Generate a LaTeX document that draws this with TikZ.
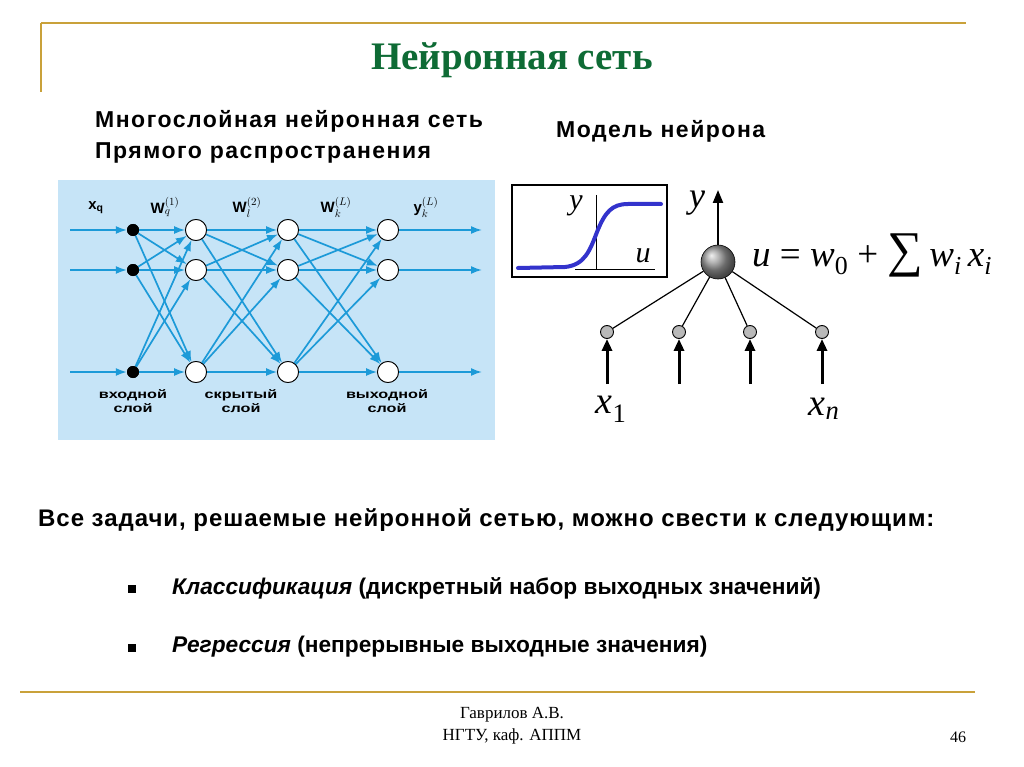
\documentclass[tikz,border=0pt]{standalone}
\usepackage{fontspec}
\setmainfont{Liberation Serif}
\setsansfont{Liberation Sans}
\usetikzlibrary{arrows.meta}
\definecolor{gold}{HTML}{C9A13A}
\definecolor{titlegreen}{HTML}{0E6B35}
\definecolor{panelblue}{HTML}{C6E4F7}
\definecolor{netblue}{HTML}{1C9AD8}
\definecolor{sigblue}{HTML}{3333CC}
\newcommand{\wideTxt}[1]{\scalebox{1.35}[1]{#1}}
\tikzset{
  netarrow/.style={draw=netblue, line width=1.7pt, -{Latex[length=11pt,width=8pt]}},
  indot/.style={circle, fill=black, inner sep=0pt, minimum size=12pt},
  hidnode/.style={circle, fill=white, draw=black, line width=0.8pt, inner sep=0pt, minimum size=21pt},
  netlbl/.style={font=\sffamily\bfseries\fontsize{15}{15}\selectfont, inner sep=0pt},
  laylbl/.style={font=\sffamily\bfseries\fontsize{12}{14}\selectfont, align=center, inner sep=0pt},
  smallnode/.style={circle, fill=gray!55, draw=black, line width=0.9pt, inner sep=0pt, minimum size=13pt},
  inarrow/.style={draw=black, line width=3pt, -{Triangle[length=12pt,width=10pt]}},
  mathlbl/.style={font=\itshape\fontsize{38}{38}\selectfont, inner sep=0pt},
  headtxt/.style={font=\sffamily\bfseries\fontsize{23}{31}\selectfont\addfontfeature{LetterSpace=6.5}, inner sep=0pt},
  bodytxt/.style={font=\sffamily\bfseries\fontsize{22.7}{26}\selectfont, inner sep=0pt, anchor=west},
  bulletbox/.style={fill=black, minimum size=8pt, inner sep=0pt},
}
\begin{document}
\begin{tikzpicture}[x=1pt,y=-1pt]
\useasboundingbox (0,0) rectangle (1024,767);
\fill[white] (0,0) rectangle (1024,767);
% frame lines
\draw[gold, line width=2.5pt] (41,23) -- (966,23);
\draw[gold, line width=2pt] (41,23) -- (41,92);
\draw[gold, line width=2.5pt] (20,692) -- (975,692);
% title
\node[font=\bfseries\fontsize{39}{39}\selectfont, text=titlegreen, inner sep=0pt] (title) at (512,60) {Нейронная сеть};
% subtitles
\node[headtxt, align=left, anchor=north west] (sub1) at (95,110) {Многослойная нейронная сеть\\Прямого распространения};
\node[headtxt, anchor=west] (sub2) at (556,131) {Модель нейрона};
% network panel
\fill[panelblue] (58,180) rectangle (495,440);
\foreach \n/\y in {1/230,2/270,3/372}{
  \node[indot] (i\n) at (133,\y) {};
  \node[hidnode] (h\n) at (196,\y) {};
  \node[hidnode] (g\n) at (288,\y) {};
  \node[hidnode] (o\n) at (388,\y) {};
  \coordinate (in\n) at (70,\y);
  \coordinate (out\n) at (482,\y);
}
\foreach \n in {1,2,3}{
  \draw[netarrow] (in\n) -- (i\n);
  \draw[netarrow] (o\n) -- (out\n);
  \foreach \m in {1,2,3}{
    \draw[netarrow] (i\n) -- (h\m);
    \draw[netarrow] (h\n) -- (g\m);
    \draw[netarrow] (g\n) -- (o\m);
  }
}
\foreach \n in {1,2,3}{
  \node[indot] at (i\n) {};
  \node[hidnode] at (h\n) {};
  \node[hidnode] at (g\n) {};
  \node[hidnode] at (o\n) {};
}
\node[netlbl] (lx) at (96,208) {x\textsubscript{q}};
\node[netlbl] (lw1) at (165,207) {W$^{(1)}_{q}$};
\node[netlbl] (lw2) at (247,207) {W$^{(2)}_{l}$};
\node[netlbl] (lw3) at (336,207) {W$^{(L)}_{k}$};
\node[netlbl] (ly) at (426,207) {y$^{(L)}_{k}$};
\node[laylbl] (lin) at (133,401) {\wideTxt{входной}\\\wideTxt{слой}};
\node[laylbl] (lhid) at (241,401) {\wideTxt{скрытый}\\\wideTxt{слой}};
\node[laylbl] (lout) at (387,401) {\wideTxt{выходной}\\\wideTxt{слой}};
% sigmoid box
\draw[black, line width=1.6pt] (512,185) rectangle (667,277);
\draw[black, line width=1pt] (596,195) -- (596,269);
\draw[black, line width=1pt] (575,269) -- (655,269);
\draw[sigblue, line width=4pt, line cap=round] (518,268) -- (565,267) .. controls (585,265) and (590,250) .. (597,232) .. controls (605,212) and (612,204) .. (628,204) -- (661,204);
\node[font=\itshape\fontsize{30}{30}\selectfont, inner sep=0pt] (sy) at (576,206) {y};
\node[font=\itshape\fontsize{30}{30}\selectfont, inner sep=0pt] (su) at (643,256) {u};
% neuron model
\node[circle, shading=ball, ball color=gray!80, draw=black, line width=0.6pt, minimum size=34pt, inner sep=0pt] (nu) at (718,262) {};
\coordinate (yt) at (718,190);
\draw[draw=black, line width=2.2pt, -{Triangle[length=13pt,width=10pt]}] (nu) -- (yt);
\node[font=\itshape\fontsize{36}{36}\selectfont, inner sep=0pt] (yl) at (697,203) {y};
\node[font=\fontsize{37}{37}\selectfont, anchor=base west, inner sep=0pt] (eq) at (752,266) {\textit{u} = \textit{w}\textsubscript{0} + {\fontsize{50}{50}\selectfont ∑}\,\textit{w\textsubscript{i}\,x\textsubscript{i}}};
\foreach \n/\x in {1/607,2/679,3/750,4/822}{
  \node[smallnode] (s\n) at (\x,332) {};
  \coordinate (b\n) at (\x,384);
  \draw[black, line width=1.2pt] (nu) -- (s\n);
  \draw[inarrow] (b\n) -- (s\n);
}
\node[mathlbl] (x1) at (611,409) {x\textsubscript{\upshape 1}};
\node[mathlbl] (xn) at (824,409) {x\textsubscript{n}};
% body text
\node[bodytxt, font=\sffamily\bfseries\fontsize{24}{26}\selectfont\addfontfeature{LetterSpace=4}] (t1) at (38,520) {Все задачи, решаемые нейронной сетью, можно свести к следующим:};
\node[bulletbox] (bul1) at (132,589) {};
\node[bulletbox] (bul2) at (132,648) {};
\node[bodytxt] (t2) at (172,588) {\textit{Классификация} (дискретный набор выходных значений)};
\node[bodytxt] (t3) at (172,647) {\textit{Регрессия} (непрерывные выходные значения)};
% footer
\node[font=\fontsize{17}{22}\selectfont, align=center, inner sep=0pt] (foot) at (512,726) {Гаврилов А.В.\\НГТУ, каф. АППМ};
\node[font=\fontsize{16}{16}\selectfont, inner sep=0pt] (pg) at (958,737) {46};
\end{tikzpicture}
\end{document}
